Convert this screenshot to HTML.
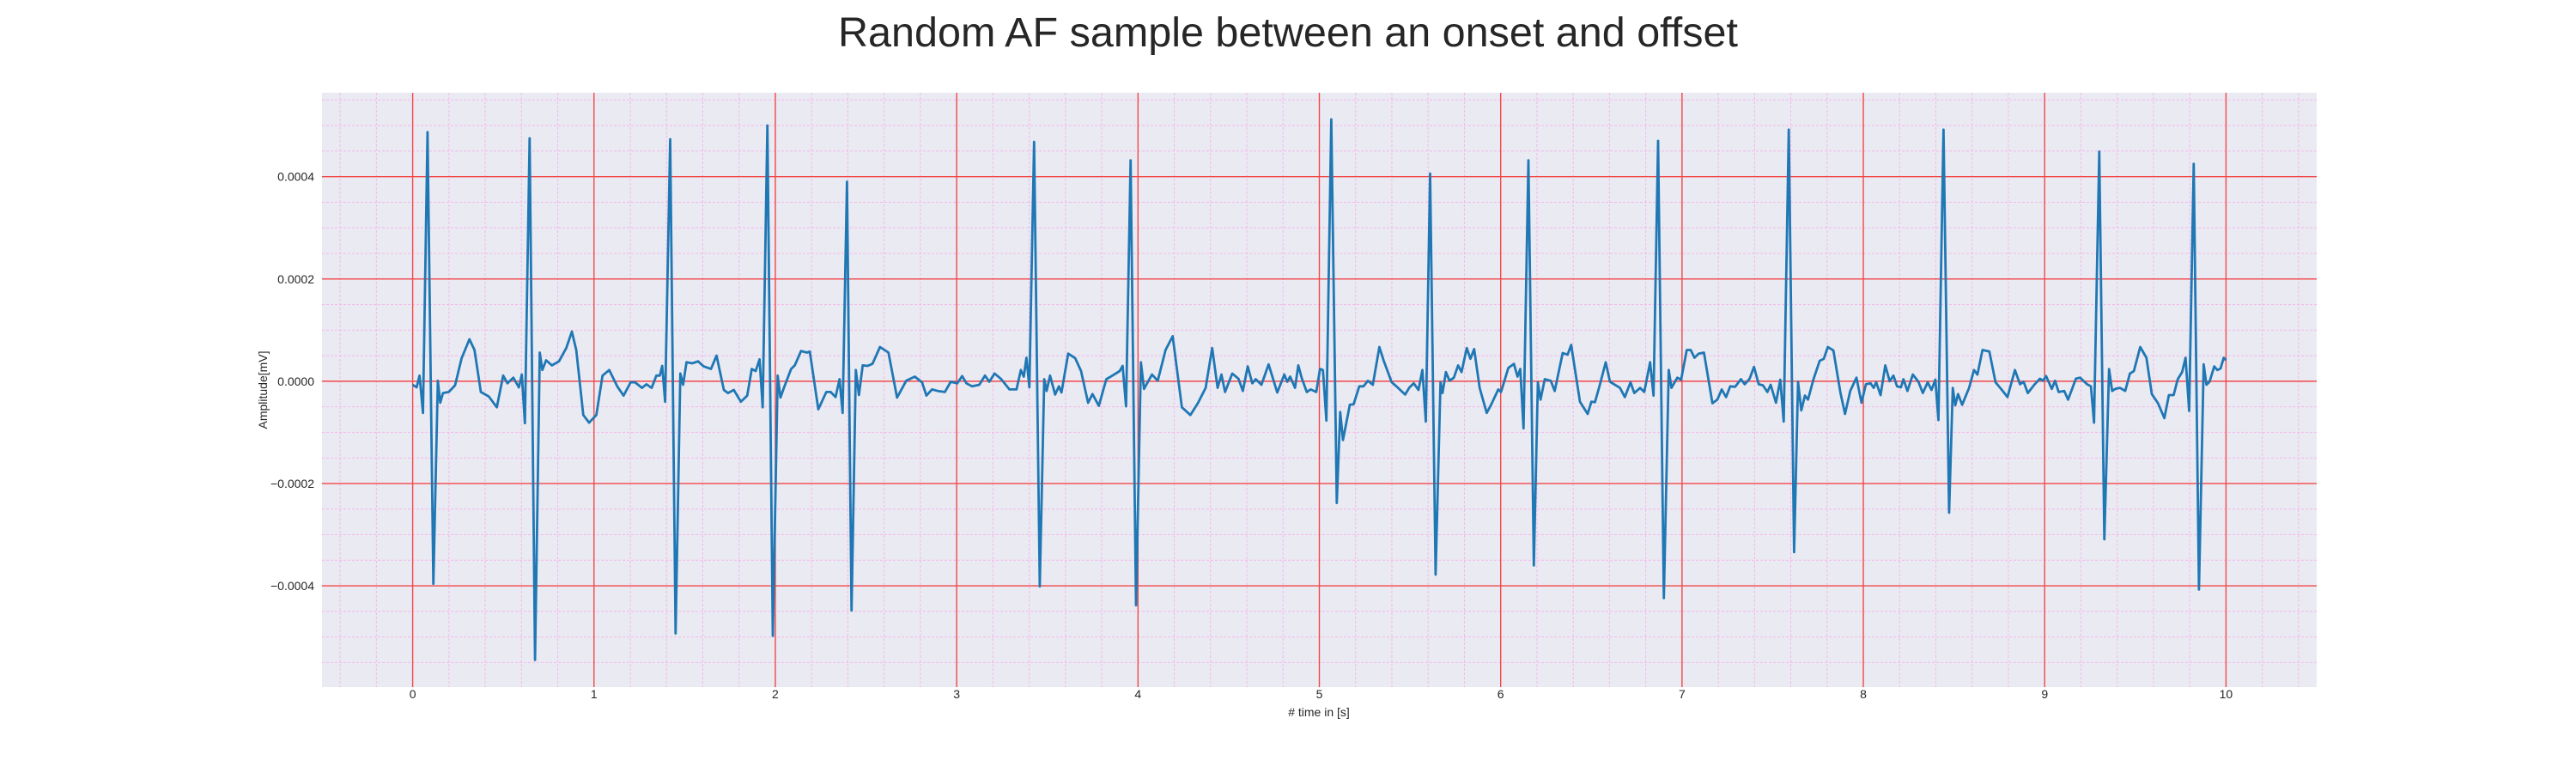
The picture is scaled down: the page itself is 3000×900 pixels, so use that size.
<!DOCTYPE html>
<html><head><meta charset="utf-8"><style>
html,body{margin:0;padding:0;background:#fff;}
svg{display:block;font-family:"Liberation Sans",sans-serif;}
</style></head><body>
<svg id="chart" width="3000" height="900" viewBox="0 0 3000 900">
<text x="1500" y="54" font-size="48.5" text-anchor="middle" fill="#262626">Random AF sample between an onset and offset</text>
<rect x="375" y="108" width="2323" height="692" fill="#eaeaf2"/>
<g id="grid"></g>
<g id="series"></g>
<g id="ticks"></g>
<text x="1536" y="834" font-size="14" text-anchor="middle" fill="#262626"># time in [s]</text>
<text transform="translate(311,454) rotate(-90)" font-size="14" text-anchor="middle" fill="#262626">Amplitude[mV]</text>
</svg>
<script>
const xTicks=[0,1,2,3,4,5,6,7,8,9,10];
const yTicks=[-0.0004,-0.0002,0,0.0002,0.0004];
const yTickLabels=["\u22120.0004","\u22120.0002","0.0000","0.0002","0.0004"];
const times=[0,0.022,0.038,0.057,0.082,0.114,0.139,0.152,0.167,0.199,0.234,0.27,0.313,0.341,0.376,0.42,0.464,0.499,0.523,0.555,0.586,0.602,0.619,0.645,0.675,0.701,0.715,0.736,0.768,0.807,0.847,0.878,0.902,0.941,0.973,1.013,1.047,1.084,1.128,1.163,1.202,1.226,1.265,1.289,1.318,1.344,1.363,1.376,1.392,1.42,1.45,1.476,1.491,1.51,1.542,1.574,1.605,1.645,1.676,1.716,1.739,1.771,1.81,1.845,1.87,1.892,1.913,1.93,1.956,1.986,2.013,2.028,2.047,2.087,2.107,2.142,2.174,2.19,2.237,2.281,2.305,2.332,2.354,2.371,2.395,
2.42,2.444,2.461,2.482,2.509,2.536,2.577,2.624,2.671,2.722,2.769,2.809,2.833,2.864,2.896,2.935,2.967,3.003,3.03,3.054,3.085,3.125,3.156,3.18,3.209,3.243,3.291,3.33,3.354,3.37,3.385,3.401,3.427,3.458,3.483,3.496,3.515,3.543,3.564,3.578,3.615,3.654,3.686,3.725,3.749,3.784,3.825,3.859,3.899,3.915,3.934,3.959,3.989,4.016,4.033,4.077,4.109,4.152,4.191,4.242,4.289,4.33,4.373,4.409,4.439,4.46,4.48,4.52,4.554,4.578,4.605,4.63,4.649,4.681,4.72,4.768,4.807,4.823,4.839,4.866,
4.884,4.904,4.931,4.952,4.983,5.004,5.02,5.039,5.066,5.096,5.115,5.13,5.168,5.189,5.22,5.244,5.268,5.295,5.331,5.355,5.399,5.434,5.473,5.497,5.521,5.547,5.568,5.587,5.611,5.641,5.668,5.679,5.698,5.718,5.742,5.765,5.784,5.813,5.833,5.854,5.884,5.923,5.947,5.987,6.002,6.042,6.073,6.093,6.108,6.126,6.153,6.183,6.205,6.22,6.243,6.276,6.298,6.342,6.369,6.389,6.437,6.48,6.5,6.52,6.547,6.579,6.603,6.658,6.685,6.716,6.737,6.769,6.792,6.824,6.843,6.868,6.9,6.927,6.942,6.974,6.995,7.026,7.048,7.069,7.092,7.121,7.168,7.195,7.219,7.243,7.266,7.293,7.325,
7.346,7.373,7.397,7.423,7.446,7.471,7.489,7.518,7.542,7.561,7.589,7.618,7.64,7.658,7.678,7.695,7.725,7.759,7.782,7.804,7.835,7.873,7.899,7.928,7.962,7.99,8.014,8.04,8.057,8.071,8.095,8.121,8.145,8.166,8.186,8.207,8.221,8.243,8.273,8.304,8.328,8.355,8.376,8.397,8.414,8.442,8.473,8.493,8.507,8.522,8.545,8.583,8.61,8.629,8.657,8.695,8.729,8.764,8.795,8.836,8.864,8.884,8.907,8.945,8.974,8.991,9.008,9.039,9.057,9.077,9.108,9.129,9.172,9.195,9.234,9.255,9.272,9.301,9.329,9.355,9.372,9.389,9.415,9.444,9.47,9.492,9.527,9.561,9.591,9.625,9.66,9.685,9.711,9.734,9.758,9.777,9.797,9.822,9.851,9.877,9.892,9.909,9.935,9.952,9.97,9.987,10.0];
const amps=[-0.07,-0.12,0.11,-0.62,4.87,-3.96,0.01,-0.42,-0.23,-0.21,-0.08,0.45,0.82,0.61,-0.21,-0.3,-0.51,0.11,-0.04,0.07,-0.12,0.13,-0.82,4.75,-5.45,0.56,0.22,0.41,0.31,0.39,0.65,0.97,0.61,-0.66,-0.81,-0.66,0.11,0.22,-0.1,-0.28,-0.02,-0.02,-0.13,-0.06,-0.13,0.11,0.11,0.3,-0.4,4.73,-4.93,0.15,-0.07,0.37,0.35,0.39,0.29,0.24,0.5,-0.17,-0.23,-0.17,-0.4,-0.28,0.24,0.2,0.43,-0.51,5.0,-4.98,0.11,-0.32,-0.13,0.24,0.31,0.59,0.56,0.58,-0.55,-0.21,-0.21,-0.31,0.04,-0.62,3.9,
-4.48,0.22,-0.27,0.31,0.3,0.34,0.67,0.56,-0.32,0.01,0.09,-0.02,-0.28,-0.16,-0.19,-0.21,-0.01,-0.04,0.1,-0.04,-0.1,-0.07,0.11,-0.01,0.15,0.05,-0.16,-0.16,0.22,0.09,0.46,-0.12,4.68,-4.01,0.04,-0.19,0.11,-0.26,-0.1,-0.22,0.54,0.45,0.2,-0.42,-0.25,-0.48,0.04,0.11,0.2,0.3,-0.49,4.32,-4.38,0.37,-0.15,0.13,0.01,0.61,0.88,-0.51,-0.66,-0.43,-0.13,0.65,-0.13,0.13,-0.21,0.15,0.05,-0.19,0.29,-0.04,0.04,-0.07,0.33,-0.22,0.13,-0.01,0.09,-0.13,
0.31,0.05,-0.21,-0.16,-0.21,0.24,0.22,-0.77,5.12,-2.38,-0.6,-1.15,-0.46,-0.45,-0.1,-0.1,0.01,-0.07,0.67,0.4,-0.02,-0.13,-0.26,-0.12,-0.04,-0.17,0.22,-0.79,4.06,-3.78,-0.02,-0.23,0.18,0.01,0.07,0.31,0.18,0.65,0.44,0.63,-0.13,-0.62,-0.46,-0.16,-0.21,0.26,0.34,0.09,0.24,-0.92,4.32,-3.6,-0.02,-0.36,0.04,0.01,-0.19,0.55,0.52,0.71,-0.4,-0.64,-0.4,-0.41,-0.07,0.37,-0.01,-0.13,-0.31,-0.02,-0.23,-0.13,-0.21,0.37,-0.28,4.7,-4.24,0.22,-0.13,0.07,0.03,0.61,0.61,0.46,0.54,0.56,-0.43,-0.36,-0.16,-0.31,-0.1,-0.11,0.04,
-0.06,0.05,0.28,-0.06,-0.08,-0.21,-0.07,-0.42,0.03,-0.79,4.92,-3.34,-0.01,-0.57,-0.28,-0.36,0.04,0.4,0.44,0.67,0.6,-0.21,-0.64,-0.19,0.07,-0.42,-0.06,-0.04,-0.13,-0.02,-0.27,0.31,0,0.11,-0.1,-0.12,0.04,-0.19,0.13,-0.01,-0.23,-0.02,-0.17,0.03,-0.76,4.92,-2.57,-0.13,-0.47,-0.25,-0.46,-0.13,0.22,0.13,0.61,0.58,-0.02,-0.17,-0.31,0.22,-0.06,-0.01,-0.23,-0.06,0.05,0.01,0.1,-0.15,0.01,-0.21,-0.19,-0.36,0.05,0.07,-0.06,-0.1,-0.81,4.49,-3.09,0.24,-0.19,-0.15,-0.13,-0.19,0.15,0.2,0.67,0.46,-0.25,-0.43,-0.72,-0.27,-0.27,0.04,0.18,0.46,-0.58,4.25,-4.07,0.33,-0.07,-0.01,0.29,0.22,0.25,0.46,0.41];
const NS="http://www.w3.org/2000/svg";
const L=375,R=2698,T=108,B=800,X0=-0.5,X1=10.5,Y0=-5.98e-4,Y1=5.64e-4;
function sx(t){return L+(t-X0)/(X1-X0)*(R-L);}
function sy(v){return B-(v-Y0)/(Y1-Y0)*(B-T);}
function mk(tag,attrs,parent){const e=document.createElementNS(NS,tag);for(const k in attrs)e.setAttribute(k,attrs[k]);parent.appendChild(e);return e;}
const grid=document.getElementById('grid'),ticks=document.getElementById('ticks'),series=document.getElementById('series');
for(let i=-2;i<=52;i++){const t=i*0.2;if(i%5===0)continue;const x=sx(t);if(x<L||x>R)continue;
 const g=mk('line',{x1:x,x2:x,y1:T,y2:B,stroke:'#f5b8ea','stroke-width':1,'stroke-dasharray':'3,2'},grid);
 
 }
for(let i=-12;i<=12;i++){if(i%4===0)continue;const v=i*0.5e-4;const y=sy(v);if(y<T||y>B)continue;
 const g=mk('line',{x1:L,x2:R,y1:y,y2:y,stroke:'#f5b8ea','stroke-width':1,'stroke-dasharray':'3,2'},grid);
 
 }
xTicks.forEach(t=>{const x=sx(t);
 const g=mk('line',{x1:x,x2:x,y1:T,y2:B,stroke:'#f24848','stroke-width':1.4},grid);
 
 
 const tx=mk('text',{x:x,y:813,'font-size':14,'text-anchor':'middle',fill:'#262626'},ticks);tx.textContent=String(t);
 
 });
yTicks.forEach((v,i)=>{const y=sy(v);
 const g=mk('line',{x1:L,x2:R,y1:y,y2:y,stroke:'#f24848','stroke-width':1.4},grid);
 
 
 const tx=mk('text',{x:366,y:y+5,'font-size':14,'text-anchor':'end',fill:'#262626'},ticks);tx.textContent=yTickLabels[i];
 
 });
let d='';times.forEach((t,i)=>{d+=(i?'L':'M')+sx(t).toFixed(1)+','+sy(amps[i]*1e-4).toFixed(1);});
const p=mk('path',{d:d,fill:'none',stroke:'#1f77b4','stroke-width':2.8,'stroke-linejoin':'round'},series);


</script>
</body></html>
